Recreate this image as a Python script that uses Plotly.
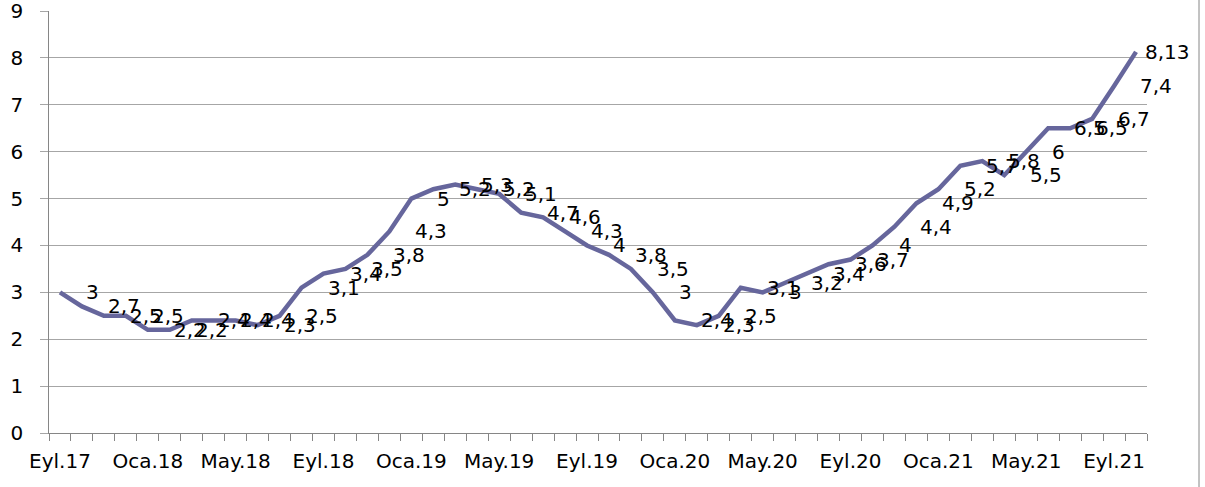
import plotly.graph_objects as go

months = ["Eyl", "Eki", "Kas", "Ara", "Oca", "Şub", "Mar", "Nis", "May", "Haz", "Tem", "Ağu"]
categories = [f"{months[i % 12]}.{17 + (i + 8) // 12}" for i in range(50)]

values = [3, 2.7, 2.5, 2.5, 2.2, 2.2, 2.4, 2.4, 2.4, 2.3,
          2.5, 3.1, 3.4, 3.5, 3.8, 4.3, 5, 5.2, 5.3, 5.2,
          5.1, 4.7, 4.6, 4.3, 4, 3.8, 3.5, 3, 2.4, 2.3,
          2.5, 3.1, 3, 3.2, 3.4, 3.6, 3.7, 4, 4.4, 4.9,
          5.2, 5.7, 5.8, 5.5, 6, 6.5, 6.5, 6.7, 7.4, 8.13]

y_ticks = list(range(0, 10))
shown_ticks = [c if i % 4 == 0 else "" for i, c in enumerate(categories)]
FONT = "DejaVu Sans"
FS = 20
GRID = "#A6A6A6"
AXIS = "#868686"

W, H = 1205, 487
L, T, R, B = 49, 11, 58, 54

fig = go.Figure()
fig.add_trace(go.Scatter(
    x=categories, y=values, mode="lines",
    line=dict(color="#66669C", width=4.5),
    hoverinfo="skip", showlegend=False,
))

for i, (c, v) in enumerate(zip(categories, values)):
    fig.add_annotation(
        x=c, y=v, text=f"{v:g}".replace(".", ","),
        showarrow=False, xanchor="left", yanchor="middle",
        xshift=7 if i == len(values) - 1 else 24,
        font=dict(family=FONT, size=FS, color="black"),
    )

fig.update_layout(
    width=W, height=H,
    margin=dict(l=L, r=R, t=T, b=B, autoexpand=False),
    plot_bgcolor="white", paper_bgcolor="white",
    font=dict(family=FONT, size=FS, color="black"),
    xaxis=dict(
        type="category", categoryorder="array", categoryarray=categories,
        tickmode="array", tickvals=categories, ticktext=shown_ticks,
        tickson="boundaries", ticks="outside", ticklen=7, tickcolor=AXIS,
        tickangle=0, automargin=False,
        showgrid=False, showline=True, linecolor=AXIS, linewidth=1,
        range=[-0.5, len(categories) - 0.5], ticklabelstandoff=10,
        tickfont=dict(family=FONT, size=FS), ticklabeloverflow="allow",
    ),
    yaxis=dict(
        range=[0, 9.002], tickmode="array", tickvals=y_ticks,
        ticktext=[f"{t}\u00a0\u00a0" for t in y_ticks],
        showgrid=True, gridcolor=GRID, gridwidth=1,
        ticks="outside", ticklen=8, tickcolor=GRID, automargin=False,
        showline=True, linecolor=AXIS, linewidth=1,
        zeroline=False, ticklabeloverflow="allow",
        tickfont=dict(family=FONT, size=FS),
    ),
)

pw = W - L - R
ph = H - T - B
fig.add_shape(type="line", xref="paper", yref="paper",
              x0=(1199 - L) / pw, x1=(1199 - L) / pw, y0=-B / ph, y1=1 + T / ph,
              line=dict(color=AXIS, width=1))

fig.write_html("out.html", config={"displayModeBar": False},
               post_script="document.body.style.margin='0';")
